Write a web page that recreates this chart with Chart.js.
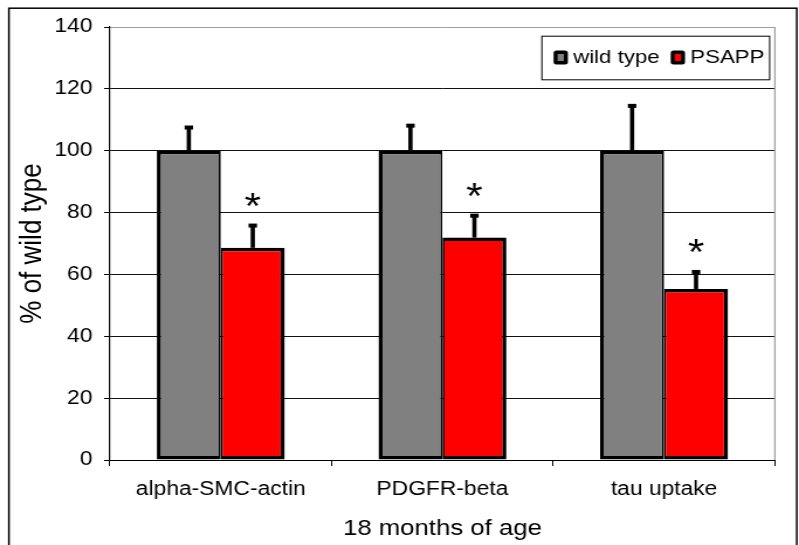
<!DOCTYPE html>
<html>
<head>
<meta charset="utf-8">
<title>18 months of age</title>
<script src="https://cdn.jsdelivr.net/npm/chart.js@4.4.1/dist/chart.umd.min.js"></script>
<style>
  html, body { margin: 0; padding: 0; background: #fff; }
</style>
</head>
<body>
<!-- the source figure is stretched sideways, so the canvas is drawn narrow and widened by its inline style -->
<canvas id="chart" width="683" height="545" style="display:block;width:799px;height:545px"></canvas>
<script>
// data
const categories = ['alpha-SMC-actin', 'PDGFR-beta', 'tau uptake'];
const seriesNames = ['wild type', 'PSAPP'];
const wildType = [100, 100, 100];
const wildTypeErr = [7.5, 8.1, 14.5];
const psapp = [68.6, 71.9, 55.3];
const psappErr = [7.2, 7.1, 5.5];
const significant = [true, true, true];
const yTicks = [0, 20, 40, 60, 80, 100, 120, 140];

const FONT = "'Liberation Sans', Arial, Helvetica, sans-serif";
Chart.defaults.font.family = FONT;
Chart.defaults.color = '#000';

// outer frame of the figure
const frame = {
    id: 'frame',
    beforeDraw(chart) {
        const ctx = chart.ctx;
        ctx.save();
        ctx.fillStyle = '#fff';
        ctx.fillRect(0, 0, chart.width, chart.height);
        ctx.restore();
    },
    afterDraw(chart) {
        const ctx = chart.ctx;
        ctx.save();
        ctx.strokeStyle = '#000';
        ctx.lineWidth = 1.5;
        ctx.strokeRect(7.6, 8.2, chart.width - 9.5, chart.height + 20);
        ctx.restore();
    }
};

// grey right edge of the plot area
const plotEdge = {
    id: 'plotEdge',
    beforeDatasetsDraw(chart) {
        const {ctx, chartArea: a} = chart;
        ctx.save();
        ctx.strokeStyle = '#a0a0a0';
        ctx.lineWidth = 1.3;
        ctx.beginPath();
        ctx.moveTo(a.right, a.top);
        ctx.lineTo(a.right, a.bottom);
        ctx.stroke();
        ctx.restore();
    }
};

// upward error bars and significance stars
const errorBars = {
    id: 'errorBars',
    afterDatasetsDraw(chart) {
        const ctx = chart.ctx;
        const y = chart.scales.y;
        ctx.save();
        ctx.fillStyle = '#000';
        chart.data.datasets.forEach((ds, i) => {
            const meta = chart.getDatasetMeta(i);
            meta.data.forEach((bar, j) => {
                const top = y.getPixelForValue(ds.data[j] + ds.errors[j]);
                ctx.fillRect(bar.x - 1.8, top, 3.6, bar.y - top);
                ctx.fillRect(bar.x - 3.6, top - 2, 7.2, 4);
                if (ds.stars && ds.stars[j]) {
                    ctx.font = '36px ' + FONT;
                    ctx.textAlign = 'center';
                    ctx.textBaseline = 'alphabetic';
                    const m = ctx.measureText('*');
                    const cy = top - 26;
                    ctx.fillText('*', bar.x, cy + (m.actualBoundingBoxAscent - m.actualBoundingBoxDescent) / 2);
                }
            });
        });
        ctx.restore();
    }
};

// boxed legend in the top right corner of the plot
const boxLegend = {
    id: 'boxLegend',
    afterDraw(chart) {
        const {ctx, chartArea: a} = chart;
        const items = chart.data.datasets.map(ds => ({label: ds.label, color: ds.backgroundColor}));
        ctx.save();
        ctx.font = '19px ' + FONT;
        const sw = 12.2, sh = 14, gap = 4.5, between = 9.5, padL = 10.5, padR = 4;
        let w = padL + padR - between;
        items.forEach(it => { it.tw = ctx.measureText(it.label).width; w += sw + gap + it.tw + between; });
        const h = 43.6;
        const right = a.right - 5;
        const left = right - w;
        const top = a.top + 8.7;
        ctx.fillStyle = '#fff';
        ctx.fillRect(left, top, w, h);
        ctx.strokeStyle = '#000';
        ctx.lineWidth = 1;
        ctx.strokeRect(left + 0.5, top + 0.5, w, h);
        const cy = top + h / 2;
        let x = left + padL;
        items.forEach(it => {
            ctx.fillStyle = '#000';
            ctx.beginPath();
            ctx.roundRect(x, cy - sh / 2, sw, sh, 2.5);
            ctx.fill();
            ctx.fillStyle = it.color;
            ctx.fillRect(x + 3.4, cy - 3.5, sw - 6.8, 7);
            ctx.fillStyle = '#000';
            ctx.textAlign = 'left';
            ctx.textBaseline = 'middle';
            ctx.fillText(it.label, x + sw + gap, cy);
            x += sw + gap + it.tw + between;
        });
        ctx.restore();
    }
};

new Chart(document.getElementById('chart'), {
    type: 'bar',
    data: {
        labels: categories,
        datasets: [
            {
                label: seriesNames[0],
                data: wildType,
                errors: wildTypeErr,
                backgroundColor: '#808080',
                borderColor: '#000',
                // the shared edge with the red bar is split between the two bars
                borderWidth: {top: 3.5, left: 3.5, bottom: 3.5, right: 1.75},
                borderSkipped: false
            },
            {
                label: seriesNames[1],
                data: psapp,
                errors: psappErr,
                stars: significant,
                backgroundColor: '#ff0000',
                borderColor: '#000',
                borderWidth: {top: 3.5, left: 1.75, bottom: 3.5, right: 3.5},
                borderSkipped: false
            }
        ]
    },
    options: {
        responsive: false,
        devicePixelRatio: 1,
        animation: false,
        categoryPercentage: 0.577,
        barPercentage: 1.0,
        layout: { padding: { top: 27, right: 20.6, left: 0, bottom: 0 } },
        plugins: {
            legend: { display: false },
            tooltip: { enabled: false }
        },
        scales: {
            x: {
                grid: {
                    offset: true,
                    drawOnChartArea: false,
                    drawTicks: true,
                    tickLength: 6,
                    color: '#000'
                },
                border: { color: '#000', width: 1 },
                ticks: { padding: 12, font: { size: 19.5 }, color: '#000' },
                title: {
                    display: true,
                    text: '18 months of age',
                    font: { size: 22 },
                    padding: { top: 0, bottom: 3 }
                },
                afterFit(scale) { scale.height = 85; }
            },
            y: {
                min: 0,
                max: 140,
                afterBuildTicks(scale) { scale.ticks = yTicks.map(v => ({value: v})); },
                grid: {
                    color: c => (c.tick && c.tick.value === 140) ? '#a0a0a0' : '#111',
                    tickColor: '#000',
                    tickLength: 5,
                    lineWidth: 1
                },
                border: { color: '#000', width: 1.2 },
                ticks: { padding: 10, font: { size: 19.5 }, color: '#000' },
                title: {
                    display: true,
                    text: '% of wild type',
                    font: { size: 26 },
                    padding: { top: 12, bottom: 0 }
                },
                afterFit(scale) { scale.width = 94; }
            }
        }
    },
    plugins: [frame, plotEdge, errorBars, boxLegend]
});
</script>
</body>
</html>
